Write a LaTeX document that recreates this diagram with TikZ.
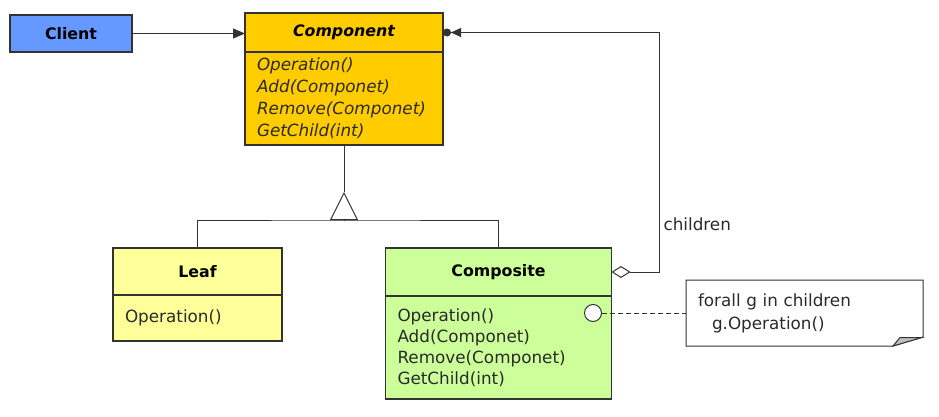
\documentclass[tikz,border=0pt]{standalone}
\usepackage{fontspec}
\setmainfont{DejaVu Sans}
\usetikzlibrary{arrows.meta,positioning}

\definecolor{clientblue}{HTML}{6699FF}
\definecolor{componentgold}{HTML}{FFCC00}
\definecolor{leafyellow}{HTML}{FFFF99}
\definecolor{compositegreen}{HTML}{CCFF99}
\definecolor{linegray}{HTML}{333333}
\definecolor{textgray}{HTML}{2A2A2A}

\begin{document}
\begin{tikzpicture}[x=1pt,y=-1pt,
  classhead/.style={draw=linegray, line width=1.1pt, inner sep=0pt, outer sep=0pt,
    font=\fontsize{15.8}{19}\selectfont\bfseries},
  classbody/.style={draw=linegray, line width=1.1pt, inner ysep=0pt, inner xsep=12pt,
    outer sep=0pt, align=left, text=textgray, font=\fontsize{16.8}{21}\selectfont},
  link/.style={draw=linegray, line width=1pt},
  opdot/.style={circle, draw=linegray, line width=1pt, fill=white,
    minimum size=17pt, inner sep=0pt},
  notebox/.style={inner ysep=0pt, inner xsep=12pt, align=left, text=textgray,
    minimum height=66pt, text width=213pt, font=\fontsize{16.8}{23}\selectfont}
]
  \useasboundingbox (0,0) rectangle (939,417);

  % --- Client ---
  \node[classhead, fill=clientblue, minimum width=122pt, minimum height=37pt]
    (client) at (71,33.5) {Client};

  % --- Component ---
  \node[classhead, fill=componentgold, minimum width=198pt, minimum height=39pt,
    font=\fontsize{15.8}{19}\selectfont\bfseries\itshape]
    (component) at (344,32.5) {Component};
  \node[classbody, fill=componentgold, below=0pt of component, minimum width=198pt,
    minimum height=93pt, text width=174pt, inner xsep=12pt,
    font=\fontsize{16.8}{22}\selectfont\itshape]
    (componentops) {Operation()\\Add(Componet)\\Remove(Componet)\\GetChild(int)};

  % --- Leaf ---
  \node[classhead, fill=leafyellow, minimum width=169pt, minimum height=47pt]
    (leaf) at (197.5,271.5) {Leaf};
  \node[classbody, fill=leafyellow, below=0pt of leaf, minimum width=169pt,
    minimum height=46pt, text width=145pt]
    (leafops) {Operation()};

  % --- Composite ---
  \node[classhead, fill=compositegreen, minimum width=226pt, minimum height=48pt]
    (composite) at (498.5,272) {Composite};
  \node[classbody, fill=compositegreen, below=0pt of composite, minimum width=226pt,
    minimum height=103pt, text width=202pt]
    (compositeops) {Operation()\\Add(Componet)\\Remove(Componet)\\GetChild(int)};
  \node[opdot] (opdot) at (593,313) {};

  % --- Client uses Component ---
  \draw[link, -{Triangle[length=12pt,width=10pt]}]
    (client.east) -- (client.east -| component.west);

  % --- Inheritance ---
  \coordinate (split) at (344,220);
  \coordinate (apex) at (344,192);
  \draw[link] (componentops.south) -- (apex);
  \draw[link, -{Triangle[open,length=28pt,width=28pt]}] (split) -- (apex);
  \draw[link] (leaf.north) |- (split) -| (composite.north);

  % --- Aggregation of children ---
  \coordinate (bend) at (659,272);
  \draw[link, {Diamond[length=19pt,width=12pt,fill=white]}-{Triangle[length=10pt,width=9pt]Circle[length=8pt]}]
    (composite.east) -- (bend) |- (component.east);
  \node[anchor=west, text=textgray, font=\fontsize{16.8}{21}\selectfont]
    (childrenlabel) at (660,224) {children};

  % --- Note ---
  \node[notebox] (note) at (804.5,313)
    {forall g in children\\\hspace{14pt}g.Operation()};
  \draw[link] (686,280) -- (923,280) -- (923,337) -- (893,346) -- (686,346) -- cycle;
  \draw[link, fill=gray!50] (893,346) -- (900,337.5) -- (922,337.5) -- cycle;
  \draw[link, dashed, dash pattern=on 5pt off 3pt] (opdot) -- (note);

\end{tikzpicture}
\end{document}
